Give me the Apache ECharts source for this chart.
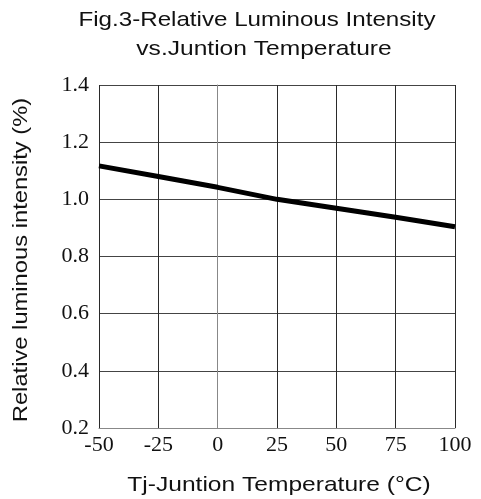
<!DOCTYPE html>
<html>
<head>
<meta charset="utf-8">
<script src="https://cdn.jsdelivr.net/npm/echarts@6/dist/echarts.min.js"></script>
<style>html,body{margin:0;padding:0;background:#fff}#c{width:481px;height:499px}</style>
</head>
<body>
<div id="c"></div>
<script>
const temperatures = [-50, -25, 0, 25, 50, 75, 100];
const relIntensity = [1.117, 1.080, 1.042, 1.000, 0.969, 0.937, 0.904];
const xTicks = [-50, -25, 0, 25, 50, 75, 100];
const yTicks = [0.2, 0.4, 0.6, 0.8, 1.0, 1.2, 1.4];
const titleLines = ['Fig.3-Relative Luminous Intensity', 'vs.Juntion Temperature'];
const xName = 'Tj-Juntion Temperature (°C)';
const yName = 'Relative luminous intensity (%)';

const chart = echarts.init(document.getElementById('c'));
const serif = '"Liberation Serif", "Times New Roman", serif';
const sansFont = 'normal 21px "Liberation Sans", Arial, sans-serif';
function txt(text, x, y, sx, rot) {
  return {
    type: 'text', x: x, y: y, scaleX: sx, rotation: rot || 0, silent: true,
    style: {text: text, x: 0, y: 0, font: sansFont, fill: '#111',
      align: 'center', verticalAlign: 'middle', textAlign: 'center', textVerticalAlign: 'middle'}
  };
}
chart.setOption({
  animation: false,
  backgroundColor: '#fff',
  graphic: [
    txt(titleLines[0], 257, 20, 1.15),
    txt(titleLines[1], 264, 49, 1.17),
    txt(xName, 279, 485, 1.17),
    txt(yName, 21, 260, 1.13, Math.PI / 2)
  ],
  grid: {left: 99, right: 26, top: 85, bottom: 71},
  xAxis: {
    type: 'value', min: xTicks[0], max: xTicks[xTicks.length - 1], interval: 25,
    axisLine: {show: true, lineStyle: {color: '#888', width: 1}},
    axisTick: {show: false},
    axisLabel: {fontFamily: serif, fontSize: 22, color: '#111', margin: 6},
    splitLine: {show: true, lineStyle: {color: '#2a2a2a', width: 1}}
  },
  yAxis: {
    type: 'value', min: yTicks[0], max: yTicks[yTicks.length - 1], interval: 0.2,
    axisLine: {show: true, lineStyle: {color: '#888', width: 1}},
    axisTick: {show: false},
    axisLabel: {fontFamily: serif, fontSize: 22, color: '#111', margin: 10,
      formatter: v => v.toFixed(1)},
    splitLine: {show: true, lineStyle: {color: '#444', width: 1}}
  },
  series: [{
    type: 'line',
    data: temperatures.map((t, i) => [t, relIntensity[i]]),
    showSymbol: false,
    lineStyle: {color: '#000', width: 5},
    smooth: false
  }]
});
</script>
</body>
</html>
